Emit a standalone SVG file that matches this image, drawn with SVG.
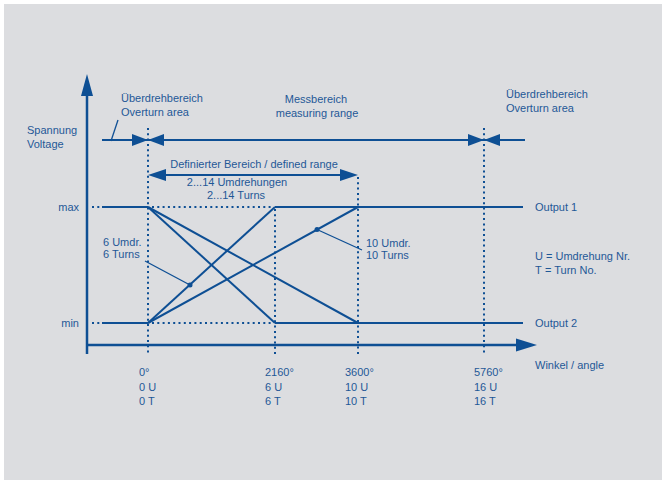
<svg xmlns="http://www.w3.org/2000/svg" width="666" height="483" viewBox="0 0 666 483">
<style>
text{font-family:"Liberation Sans",Arial,sans-serif;font-size:11px;fill:#1f5897}
.ln{stroke:#0e4f94;fill:none}
.dot{stroke:#0e4f94;fill:none;stroke-width:2;stroke-dasharray:2 3.3}
.ah{fill:#0e4f94}
</style>
<rect x="0" y="0" width="666" height="483" fill="#ffffff"/>
<rect x="4" y="4" width="658" height="476" fill="#dcdde0"/>

<g id="connectors">
  <!-- axes -->
  <path class="ln" stroke-width="2.5" d="M87,92 V354"/>
  <polygon class="ah" points="87,74 81,96 93,96"/>
  <path class="ln" stroke-width="2.5" d="M87,345 H518"/>
  <polygon class="ah" points="537,345 516,338.5 516,351.5"/>
  <!-- vertical dotted -->
  <path class="dot" d="M148,128 V356"/>
  <path class="dot" d="M484,128 V356"/>
  <path class="dot" d="M358,177 V356"/>
  <path class="dot" d="M275,209 V356"/>
  <!-- level lines -->
  <path class="dot" d="M92,207 H102"/>
  <path class="ln" stroke-width="2" d="M102,207 H148"/>
  <path class="dot" d="M152,207 H273"/>
  <path class="ln" stroke-width="2" d="M275,207 H523"/>
  <path class="dot" d="M92,323 H102"/>
  <path class="ln" stroke-width="2" d="M102,323 H148"/>
  <path class="dot" d="M152,323 H273"/>
  <path class="ln" stroke-width="2" d="M275,323 H523"/>
  <!-- transitions -->
  <path class="ln" stroke-width="2" d="M148,207 L275,323"/>
  <path class="ln" stroke-width="2" d="M148,207 L358,323"/>
  <path class="ln" stroke-width="2" d="M148,323 L275,207"/>
  <path class="ln" stroke-width="2" d="M148,323 L358,207"/>
  <!-- overturn / measuring line -->
  <path class="ln" stroke-width="1.8" d="M102,140 H525"/>
  <polygon class="ah" points="132,134 132,146 148,140"/>
  <polygon class="ah" points="164,134 164,146 148,140"/>
  <polygon class="ah" points="468,134 468,146 484,140"/>
  <polygon class="ah" points="500,134 500,146 484,140"/>
  <path class="ln" stroke-width="1.3" d="M111,141 L118,120"/>
  <!-- defined range arrow -->
  <path class="ln" stroke-width="2" d="M160,175 H345"/>
  <polygon class="ah" points="148,175 166,169 166,181"/>
  <polygon class="ah" points="358,175 340,169 340,181"/>
  <!-- leaders -->
  <path class="ln" stroke-width="1.3" d="M145,261 L190,285"/>
  <circle class="ah" cx="190" cy="285" r="2.5"/>
  <path class="ln" stroke-width="1.3" d="M362,250 L317,229.5"/>
  <circle class="ah" cx="317" cy="229.5" r="2.5"/>
</g>

<g id="label-voltage"><text x="27" y="134">Spannung</text><text x="27" y="148">Voltage</text></g>
<g id="label-overturn-left"><text x="121" y="102">Überdrehbereich</text><text x="121" y="116">Overturn area</text></g>
<g id="label-measuring"><text x="316" y="103" text-anchor="middle">Messbereich</text><text x="317" y="117" text-anchor="middle">measuring range</text></g>
<g id="label-overturn-right"><text x="506" y="98">Überdrehbereich</text><text x="506" y="112">Overturn area</text></g>
<g id="label-defined"><text x="254" y="168" text-anchor="middle">Definierter Bereich / defined range</text><text x="237" y="186" text-anchor="middle">2...14 Umdrehungen</text><text x="236" y="199" text-anchor="middle">2...14 Turns</text></g>
<g id="label-max"><text x="79" y="211" text-anchor="end">max</text></g>
<g id="label-min"><text x="79" y="327" text-anchor="end">min</text></g>
<g id="label-6turns"><text x="103" y="246">6 Umdr.</text><text x="103" y="258">6 Turns</text></g>
<g id="label-10turns"><text x="366" y="247">10 Umdr.</text><text x="366" y="259">10 Turns</text></g>
<g id="label-output1"><text x="535" y="211">Output 1</text></g>
<g id="label-output2"><text x="535" y="327">Output 2</text></g>
<g id="label-legend"><text x="535" y="260">U = Umdrehung Nr.</text><text x="535" y="274">T<tspan x="545">= Turn No.</tspan></text></g>
<g id="label-angle"><text x="535" y="369">Winkel / angle</text></g>
<g id="tick-0"><text x="139" y="376">0°</text><text x="139" y="391">0 U</text><text x="139" y="405">0 T</text></g>
<g id="tick-2160"><text x="265" y="376">2160°</text><text x="265" y="391">6 U</text><text x="265" y="405">6 T</text></g>
<g id="tick-3600"><text x="345" y="376">3600°</text><text x="345" y="391">10 U</text><text x="345" y="405">10 T</text></g>
<g id="tick-5760"><text x="474" y="376">5760°</text><text x="474" y="391">16 U</text><text x="474" y="405">16 T</text></g>
</svg>
